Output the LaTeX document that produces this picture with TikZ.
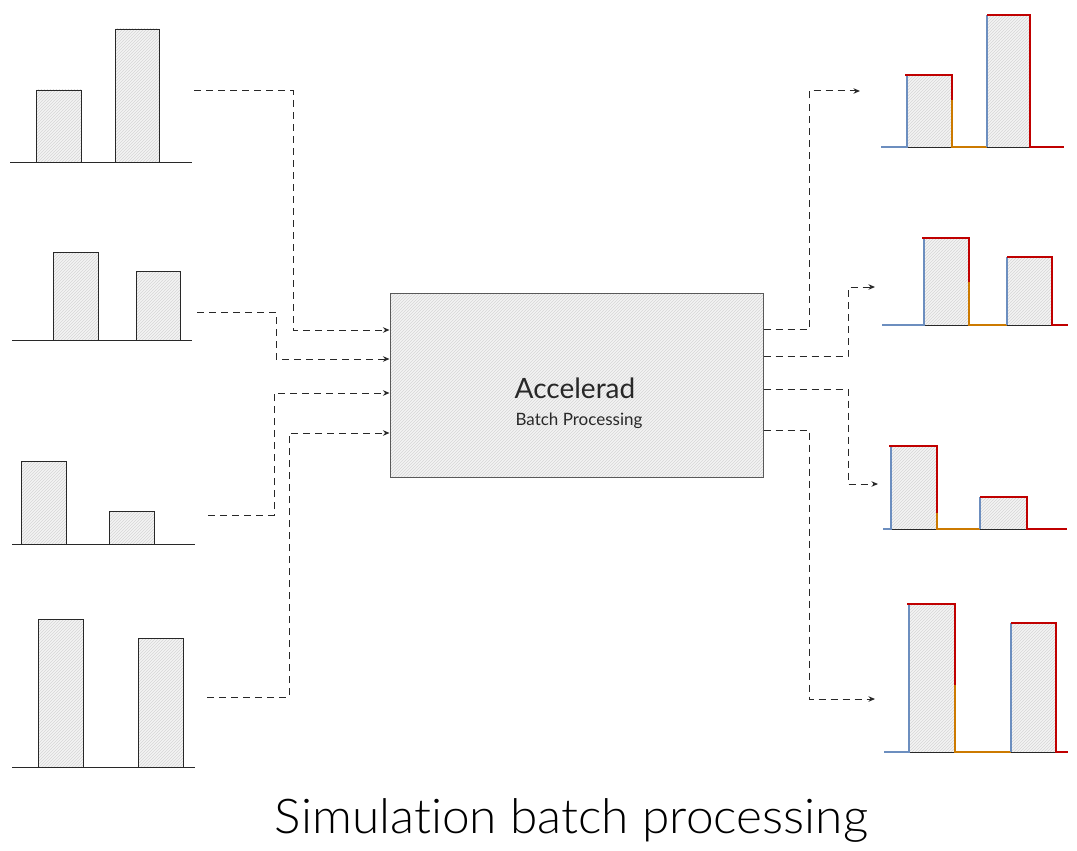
\documentclass[tikz,border=0pt]{standalone}
\usepackage{fontspec}
\usepackage{graphicx}
\newfontfamily\titlefont{Lato Light}[Ligatures=NoCommon]
\newfontfamily\boxfont{Lato}[Ligatures=NoCommon]
\usetikzlibrary{patterns,arrows.meta,calc}
\definecolor{cblue}{RGB}{108,142,191}
\definecolor{cred}{RGB}{192,0,0}
\definecolor{corange}{RGB}{204,122,0}
\definecolor{ink}{RGB}{40,40,40}
\begin{document}
\begin{tikzpicture}[x=1pt,y=-1pt,
  hatch/.style={preaction={fill=gray!9},preaction={pattern=north east lines,pattern color=gray!32}},
  bar/.style={hatch,draw=ink,line width=0.9pt},
  base/.style={draw=ink,line width=0.9pt},
  conn/.style={draw=ink,line width=1pt,dash pattern=on 7pt off 5pt,-{Stealth[length=6.5pt,width=5.5pt]}},
  cb/.style={draw=cblue,line width=2.8pt},
  cr/.style={draw=cred,line width=2.8pt},
  co/.style={draw=corange,line width=2.8pt},
]
\useasboundingbox (0,0) rectangle (1077,851);
\fill[white] (0,0) rectangle (1077,851);

% central box
\node[hatch,draw=gray!70!black,line width=1pt,minimum width=373pt,minimum height=184pt,inner sep=0pt] (acc) at (576.5,385) {};
\node[font=\boxfont\fontsize{28}{30}\selectfont,text=ink] (acctitle) at (575,388) {Accelerad};
\node[font=\boxfont\fontsize{17}{20}\selectfont,text=ink] (accsub) at (579,421) {Batch Processing};

% left charts
\draw[base] (10,162) -- (192,162);
\draw[bar] (36,90) rectangle (81,162);
\draw[bar] (115,29) rectangle (159,162);

\draw[base] (12,340) -- (192,340);
\draw[bar] (53,252) rectangle (98,340);
\draw[bar] (136,271) rectangle (180,340);

\draw[base] (12,544) -- (195,544);
\draw[bar] (21,461) rectangle (66,544);
\draw[bar] (109,511) rectangle (154,544);

\draw[base] (12,767) -- (195,767);
\draw[bar] (38,619) rectangle (83,767);
\draw[bar] (138,638) rectangle (183,767);

% right charts
% R1
\draw[bar] (907,75) rectangle (952,147);
\draw[bar] (987,15) rectangle (1030,147);
\draw[cb] (881,147) -- (907,147) -- (907,75);
\draw[cr] (905,75) -- (952,75) -- (952,100);
\draw[co] (952,100) -- (952,147) -- (987,147);
\draw[cb] (987,147) -- (987,15);
\draw[cr] (987,15) -- (1030,15) -- (1030,147) -- (1064,147);
% R2
\draw[bar] (924,238) rectangle (969,325);
\draw[bar] (1007,257) rectangle (1052,325);
\draw[cb] (882,325) -- (924,325) -- (924,238);
\draw[cr] (922,238) -- (969,238) -- (969,282);
\draw[co] (969,282) -- (969,325) -- (1007,325);
\draw[cb] (1007,325) -- (1007,257);
\draw[cr] (1007,257) -- (1052,257) -- (1052,325) -- (1068,325);
% R3
\draw[bar] (891,446) rectangle (937,529);
\draw[bar] (980,497) rectangle (1027,529);
\draw[cb] (883,529) -- (891,529) -- (891,446);
\draw[cr] (889,446) -- (937,446) -- (937,513);
\draw[co] (937,513) -- (937,529) -- (980,529);
\draw[cb] (980,529) -- (980,497);
\draw[cr] (980,497) -- (1027,497) -- (1027,529) -- (1067,529);
% R4
\draw[bar] (909,604) rectangle (955,752);
\draw[bar] (1011,623) rectangle (1056,752);
\draw[cb] (884,752) -- (909,752) -- (909,604);
\draw[cr] (907,604) -- (955,604) -- (955,685);
\draw[co] (955,685) -- (955,752) -- (1011,752);
\draw[cb] (1011,752) -- (1011,623);
\draw[cr] (1011,623) -- (1056,623) -- (1056,752) -- (1068,752);

% connector ends
\coordinate (s1) at (194,91);
\coordinate (s2) at (197,312);
\coordinate (s3) at (208,515);
\coordinate (s4) at (207,697);
\coordinate (t1) at (860,91);
\coordinate (t2) at (875,287);
\coordinate (t3) at (878,484);
\coordinate (t4) at (875,699);

\draw[conn] (s1) -- (293,91) |- (acc.west |- 0,330);
\draw[conn] (s2) -- (276,312) |- (acc.west |- 0,359);
\draw[conn] (s3) -- (274,515) |- (acc.west |- 0,393);
\draw[conn] (s4) -- (289,697) |- (acc.west |- 0,433);

\draw[conn] (acc.east |- 0,329) -| (809,91) -- (t1);
\draw[conn] (acc.east |- 0,356) -| (848,287) -- (t2);
\draw[conn] (acc.east |- 0,389) -| (848,484) -- (t3);
\draw[conn] (acc.east |- 0,430) -| (809,699) -- (t4);

% title
\node[anchor=base,text=black,inner sep=0pt] (title) at (571.5,833) {\resizebox{593pt}{\height}{\titlefont\fontsize{48}{54}\selectfont Simulat\kern0pt ion batch processing}};
\end{tikzpicture}
\end{document}
